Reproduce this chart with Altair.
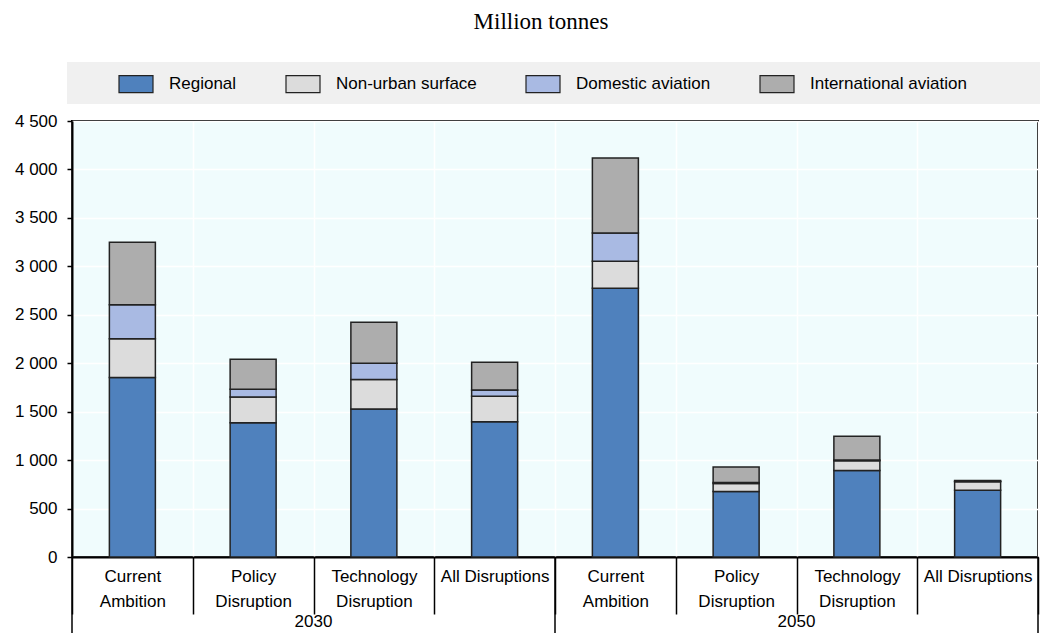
import json
import altair as alt
import pandas as pd

# ---------------- data ----------------
title_text = "Million tonnes"
years = ["2030", "2050"]
scenarios = ["Current Ambition", "Policy Disruption", "Technology Disruption", "All Disruptions"]
scenario_lines = [["Current", "Ambition"], ["Policy", "Disruption"],
                  ["Technology", "Disruption"], ["All Disruptions"]]
sources = ["Regional", "Non-urban surface", "Domestic aviation", "International aviation"]
colors = ["#4f81bd", "#dcdcdc", "#a9bae3", "#adadad"]

# order: 2030 (CA, PD, TD, AD), 2050 (CA, PD, TD, AD)
regional = [1852, 1386, 1528, 1397, 2773, 676, 893, 690]
non_urban = [400, 266, 303, 262, 279, 83, 100, 86]
domestic = [352, 79, 169, 65, 293, 10, 8, 5]
international = [644, 311, 424, 287, 772, 159, 244, 9]
y_ticks = [0, 500, 1000, 1500, 2000, 2500, 3000, 3500, 4000, 4500]

keys = [f"{y} {s}" for y in years for s in scenarios]
label_map = {f"{y} {s}": lines for y in years for s, lines in zip(scenarios, scenario_lines)}

series = [regional, non_urban, domestic, international]
rows = []
for si, (src, vals) in enumerate(zip(sources, series)):
    for k, v in zip(keys, vals):
        rows.append({"key": k, "source": src, "value": v, "ord": si})
df = pd.DataFrame(rows)

W, H = 966, 436
LEFT, TOP, RIGHT, BOTTOM = 64, 113, 2, 76
FONT = "Liberation Sans"

label_expr = json.dumps(label_map) + "[datum.value]"


def make_x(bp=None):
    kw = {}
    if bp is not None:
        kw["bandPosition"] = bp
    return alt.X(
        "key:N",
        sort=keys,
        scale=alt.Scale(domain=keys, paddingInner=0, paddingOuter=0),
        axis=alt.Axis(
            title=None, labelExpr=label_expr, labelAngle=0,
            tickBand="extent", tickSize=57, tickColor="#000", tickWidth=1.5,
            labelPadding=-46, labelBaseline="top", labelLineHeight=25,
            labelFontSize=17, labelFont=FONT, labelColor="#000",
            domainColor="#000", domainWidth=2,
            grid=True, gridColor="#ffffff", gridWidth=1.5,
        ),
        **kw,
    )


bg = alt.Chart(pd.DataFrame({"a": [0]})).mark_rect(color="#f0f0f0").encode(
    x=alt.value(-5), x2=alt.value(W + 2), y=alt.value(-59), y2=alt.value(-17)
)

bars = alt.Chart(df).mark_bar(size=46, stroke="#222222", strokeWidth=1.5).encode(
    x=make_x(),
    y=alt.Y(
        "value:Q", stack="zero",
        scale=alt.Scale(domain=[0, 4500], nice=False),
        axis=alt.Axis(
            title=None, values=y_ticks,
            labelExpr="replace(format(datum.value, ','), ',', ' ')",
            labelFontSize=17, labelFont=FONT, labelColor="#000", labelPadding=10,
            tickSize=5, tickColor="#000", tickWidth=1.5,
            domainColor="#000", domainWidth=2,
            grid=True, gridColor="#ffffff", gridWidth=1.5,
        ),
    ),
    color=alt.Color(
        "source:N", sort=sources,
        scale=alt.Scale(domain=sources, range=colors),
        legend=alt.Legend(
            title=None, orient="none", direction="horizontal",
            legendX=46, legendY=-55, padding=0,
            symbolType="M-1,-0.5H1V0.5H-1Z", symbolSize=1156,
            symbolStrokeColor="#222222", symbolStrokeWidth=1.2, symbolOpacity=1,
            labelFontSize=17, labelFont=FONT, labelColor="#000",
            labelOffset=15, columnPadding=46,
        ),
    ),
    order=alt.Order("ord:Q"),
)

sep_left = alt.Chart(pd.DataFrame({"key": [keys[0], keys[4]]})).mark_rule(
    color="#000", strokeWidth=1.5
).encode(x=make_x(0), y=alt.value(H), y2=alt.value(H + BOTTOM))

sep_right = alt.Chart(pd.DataFrame({"key": [keys[7]]})).mark_rule(
    color="#000", strokeWidth=1.5
).encode(x=make_x(1), y=alt.value(H), y2=alt.value(H + BOTTOM))

year_labels = alt.Chart(pd.DataFrame({"key": [keys[1], keys[5]], "year": years})).mark_text(
    font=FONT, fontSize=17, color="#000", baseline="alphabetic"
).encode(x=make_x(1), y=alt.value(H + 70), text="year:N")

title = alt.Chart(pd.DataFrame({"t": [title_text]})).mark_text(
    font="Liberation Serif", fontSize=23, color="#000", baseline="middle"
).encode(x=alt.value(469), y=alt.value(-99), text="t:N")

chart = alt.layer(bg, bars, sep_left, sep_right, year_labels, title).properties(
    width=W, height=H,
    autosize=alt.AutoSizeParams(type="none"),
    padding={"left": LEFT, "top": TOP, "right": RIGHT, "bottom": BOTTOM},
).configure(font=FONT).configure_view(
    fill="#f0fcfd", stroke="#000000", strokeWidth=2
)

chart.save("out.html", embed_options={"renderer": "svg", "actions": False})
